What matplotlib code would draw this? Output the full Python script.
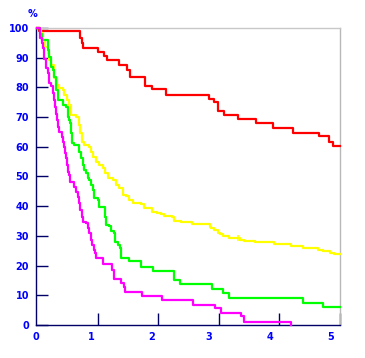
import matplotlib
matplotlib.use('Agg')
import matplotlib.pyplot as plt

# Survival curves (time in years, % surviving)
red_t = [0, 0.03, 0.70, 0.71, 0.74, 0.75, 1.00, 1.11, 1.15, 1.35, 1.49, 1.53, 1.78,
         1.90, 2.12, 2.83, 2.92, 2.99, 3.08, 3.31, 3.62, 3.90, 4.23, 4.66, 4.82, 4.89]
red_s = [100, 99.0, 97.6, 96.5, 94.8, 93.2, 91.9, 90.6, 89.2, 87.5, 85.9, 83.4, 80.5,
         79.3, 77.4, 76.1, 75.0, 72.1, 70.6, 69.2, 67.9, 66.3, 64.8, 63.6, 61.7, 60.4]

yellow_t = [0, 0.066, 0.094, 0.132, 0.176, 0.202, 0.230, 0.285, 0.329, 0.367, 0.423, 0.449,
            0.493, 0.531, 0.559, 0.641, 0.696, 0.712, 0.735, 0.778, 0.860, 0.888, 0.916,
            0.970, 1.025, 1.081, 1.118, 1.163, 1.245, 1.299, 1.354, 1.410, 1.464, 1.518,
            1.574, 1.711, 1.765, 1.903, 1.985, 2.039, 2.094, 2.232, 2.258, 2.368, 2.561,
            2.850, 2.873, 2.916, 2.982, 3.026, 3.071, 3.163, 3.355, 3.421, 3.602, 3.903,
            4.189, 4.386, 4.643, 4.715, 4.836, 4.901]
yellow_s = [100, 98.2, 96.0, 93.7, 91.5, 89.2, 87.5, 83.0, 80.8, 79.7, 79.1, 77.4,
            75.8, 74.1, 70.7, 70.1, 67.3, 64.5, 61.7, 60.6, 60.1, 58.4, 56.7,
            55.0, 53.9, 52.7, 51.1, 49.4, 48.8, 47.1, 46.0, 43.8, 43.4, 42.1,
            41.0, 40.7, 39.3, 38.2, 37.6, 37.3, 36.7, 36.5, 35.1, 34.6, 34.1,
            33.1, 32.7, 32.0, 31.1, 30.5, 30.0, 29.3, 28.6, 28.2, 27.8, 27.3,
            26.7, 25.9, 25.3, 24.8, 24.3, 23.9]

green_t = [0, 0.04, 0.082, 0.176, 0.202, 0.230, 0.258, 0.285, 0.313, 0.340, 0.423, 0.477,
           0.505, 0.531, 0.548, 0.559, 0.571, 0.604, 0.696, 0.724, 0.752, 0.778, 0.806,
           0.834, 0.855, 0.888, 0.916, 0.933, 0.998, 1.025, 1.127, 1.143, 1.189, 1.217,
           1.262, 1.283, 1.332, 1.360, 1.387, 1.518, 1.711, 1.919, 2.258, 2.357, 2.890,
           3.071, 3.163, 4.386, 4.715]
green_s = [100, 98.0, 96.0, 92.6, 90.3, 87.0, 85.9, 83.6, 79.1, 75.8, 74.1, 73.5,
           70.1, 69.0, 67.9, 64.5, 61.2, 60.6, 58.4, 56.1, 53.9, 52.2, 51.1,
           49.4, 48.8, 47.1, 45.5, 42.6, 42.1, 39.7, 36.5, 33.7, 33.3, 31.8,
           30.9, 28.1, 26.9, 25.8, 22.6, 21.4, 19.6, 18.3, 15.2, 13.8, 12.0,
           10.9, 9.2, 7.5, 5.9]

magenta_t = [0, 0.038, 0.054, 0.077, 0.094, 0.110, 0.120, 0.148, 0.173, 0.202, 0.230, 0.263,
             0.285, 0.296, 0.313, 0.329, 0.340, 0.367, 0.406, 0.423, 0.449, 0.461, 0.477,
             0.493, 0.515, 0.531, 0.548, 0.604, 0.613, 0.641, 0.669, 0.696, 0.712, 0.735,
             0.752, 0.806, 0.834, 0.844, 0.860, 0.888, 0.905, 0.933, 0.959, 0.970, 1.081,
             1.229, 1.271, 1.390, 1.426, 1.452, 1.738, 2.067, 2.571, 2.928, 3.038, 3.367,
             3.421, 4.189]
magenta_s = [100, 98.2, 96.5, 94.8, 93.2, 91.5, 89.5, 86.5, 84.7, 81.5, 80.5, 78.0,
             75.8, 73.5, 71.2, 69.0, 66.8, 65.1, 63.4, 61.7, 60.1, 57.8, 56.1,
             53.9, 51.6, 50.5, 48.3, 47.7, 46.6, 44.9, 43.2, 41.0, 38.7, 36.5,
             34.8, 34.2, 33.1, 32.5, 30.9, 28.6, 26.9, 25.3, 24.1, 22.4, 20.5,
             18.5, 15.4, 14.2, 12.7, 11.2, 9.8, 8.5, 6.9, 5.6, 4.2, 3.0,
             1.1, 0]

curves = [(red_t, red_s, '#ff0000'), (yellow_t, yellow_s, '#ffff00'),
          (green_t, green_s, '#00ff00'), (magenta_t, magenta_s, '#ff00ff')]
followup = [5.0, 5.0, 5.0, None]

# censored observation visible on the yellow curve
yellow_cens_t = [3.31]
yellow_cens_s = [29.3]

y_ticks = list(range(0, 101, 10))
x_ticks = [1, 2, 3, 4, 5]
x_labels = ['0', '1', '2', '3', '4', '5']
x_label_pos = [-0.02, 0.89, 1.89, 2.83, 3.85, 4.84]

navy = '#000066'
blue = '#0000ff'

fig = plt.figure(figsize=(3.65, 3.58), dpi=100)
ax = fig.add_axes([36 / 365, 1 - 325 / 358, 304 / 365, 297 / 358])

for (t, s, c), end in zip(curves, followup):
    t = list(t)
    s = list(s)
    if end is not None:
        t.append(end)
        s.append(s[-1])
    ax.step(t, s, where='post', color=c, lw=1.6, clip_on=False, zorder=3)

ax.plot(yellow_cens_t, yellow_cens_s, marker='|', ms=5, mew=1.2, color='#ffff00',
        ls='none', zorder=3)

ax.set_xlim(0, 5.0)
ax.set_ylim(0, 100)

ax.spines['left'].set_color(navy)
ax.spines['bottom'].set_color(navy)
ax.spines['left'].set_linewidth(1.0)
ax.spines['bottom'].set_linewidth(1.0)
ax.spines['top'].set_color('#c8c8c8')
ax.spines['right'].set_color('#b8b8b8')
ax.spines['top'].set_linewidth(1.0)
ax.spines['right'].set_linewidth(1.0)

ax.set_yticks(y_ticks)
ax.set_yticklabels([str(v) for v in y_ticks])
ax.set_xticks(x_ticks)
ax.set_xticklabels([])
ax.set_xticks(x_label_pos, x_labels, minor=True)

ax.tick_params(axis='y', direction='in', length=8.5, width=1.0, color=navy, pad=5,
               labelcolor=blue, labelsize=7)
ax.tick_params(axis='x', which='major', direction='in', length=8.5, width=1.0, color=navy)
ax.tick_params(axis='x', which='minor', length=0, pad=5, labelcolor=blue, labelsize=7)
for lab in ax.get_yticklabels() + ax.get_xticklabels(minor=True):
    lab.set_fontweight('bold')

fig.text(32.5 / 365, 1 - 14 / 358, '%', color=blue, fontsize=7, fontweight='bold',
         ha='center', va='center')

fig.savefig('out.png', dpi=100)
